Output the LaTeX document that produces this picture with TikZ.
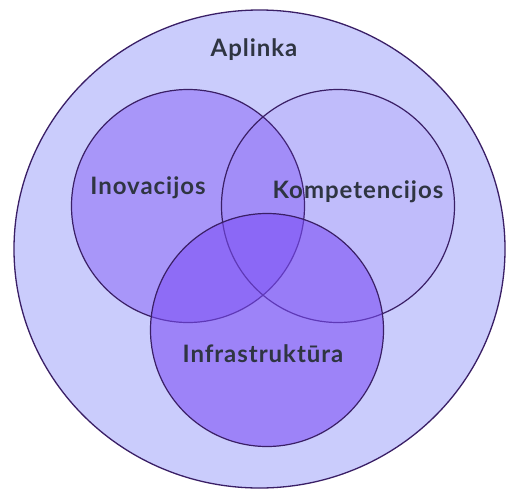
\documentclass[tikz,border=0pt]{standalone}
\usepackage{fontspec}
\setmainfont{Lato}[LetterSpace=4]
\usepackage{xcolor}
\usetikzlibrary{shapes.geometric}
\definecolor{envfill}{HTML}{CACCFC}
\definecolor{vennbase}{HTML}{7B4DF5}
\definecolor{vennline}{HTML}{3A1F66}
\definecolor{labeltext}{HTML}{2F3542}
\tikzset{
  venn/.style={circle,draw=vennline,line width=1.2pt,fill=vennbase,
    minimum size=233pt,inner sep=0pt},
  vennlabel/.style={text=labeltext,font=\bfseries\fontsize{24}{26}\selectfont}
}

\begin{document}
\begin{tikzpicture}[x=1pt,y=-1pt]
  \useasboundingbox[fill=white] (0,0) rectangle (508,490);
  \node[ellipse,draw=vennline,line width=1.3pt,fill=envfill,minimum width=491pt,
    minimum height=478pt,inner sep=0pt] (env) at (259.5,249) {};
  \node[venn,fill opacity=0.42] (inov) at (188,206) {};
  \node[venn,fill opacity=0.12] (komp) at (338,206) {};
  \node[venn,fill opacity=0.57] (infra) at (267,330) {};
  \node[vennlabel] (envlbl) at (254,50) {Aplinka};
  \node[vennlabel] (inovlbl) at (148,188) {Inovacijos};
  \node[vennlabel] (komplbl) at (358,192) {Kompetencijos};
  \node[vennlabel] (infralbl) at (263,354) {Infrastruktūra};
\end{tikzpicture}
\end{document}
